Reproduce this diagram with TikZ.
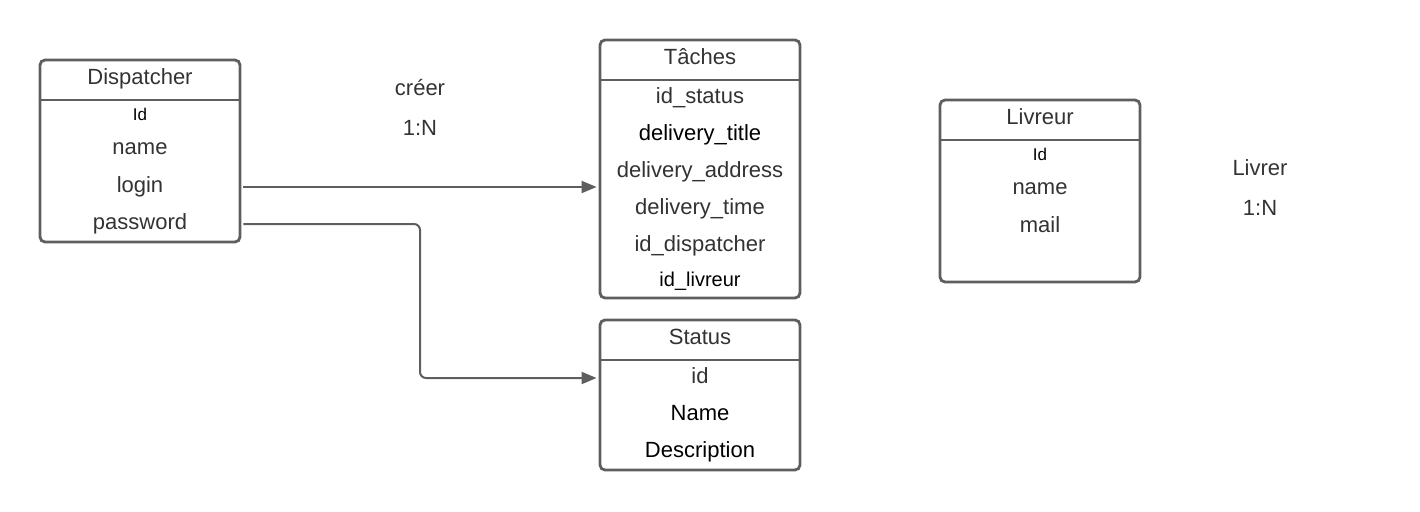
\documentclass[tikz,border=0pt]{standalone}
\usepackage{fontspec}
\setmainfont{Liberation Sans}
\usetikzlibrary{arrows.meta}
\definecolor{bordergray}{HTML}{5E5E5E}
\definecolor{txtgray}{HTML}{333333}
\tikzset{
  entity/.style={draw=bordergray, line width=2.8pt, rounded corners=5pt, fill=white, minimum width=200pt, inner sep=0pt},
  hline/.style={draw=bordergray, line width=2.8pt},
  title/.style={text=txtgray, font=\fontsize{22}{24}\selectfont, inner sep=0pt, anchor=center},
  field/.style={text=txtgray, font=\fontsize{22}{24}\selectfont, inner sep=0pt, anchor=center},
  fieldb/.style={text=black, font=\fontsize{22}{24}\selectfont, inner sep=0pt, anchor=center},
  fieldsmall/.style={text=black, font=\fontsize{17}{20}\selectfont, inner sep=0pt, anchor=center},
  fieldmid/.style={text=black, font=\fontsize{20}{22}\selectfont, inner sep=0pt, anchor=center},
  lbl/.style={text=txtgray, font=\fontsize{22}{24}\selectfont, inner sep=0pt, anchor=center},
  conn/.style={draw=bordergray, line width=2pt, -{Triangle[length=15pt,width=12pt]}, rounded corners=6pt}
}
\begin{document}
\begin{tikzpicture}[x=1pt,y=-1pt]
\useasboundingbox (0,0) rectangle (1420,511);
% Dispatcher
\node[entity, minimum height=182pt] (disp) at (140,151) {};
\draw[hline] (disp.west |- 0,100) -- (disp.east |- 0,100);
\node[title] (dispT) at (140,78.5) {Dispatcher};
\node[fieldsmall] (dispId) at (140,114) {Id};
\node[field] (dispName) at (140,149) {name};
\node[field] (dispLogin) at (140,186.5) {login};
\node[field] (dispPwd) at (140,223.5) {password};
% Taches
\node[entity, minimum height=258pt] (tach) at (700,169) {};
\draw[hline] (tach.west |- 0,80) -- (tach.east |- 0,80);
\node[title] (tachT) at (700,57) {Tâches};
\node[field] (t1) at (700,97.5) {id\_status};
\node[fieldb] (t2) at (700,134.5) {delivery\_title};
\node[field] (t3) at (700,171.5) {delivery\_address};
\node[field] (t4) at (700,208.5) {delivery\_time};
\node[field] (t5) at (700,245.5) {id\_dispatcher};
\node[fieldmid] (t6) at (700,281) {id\_livreur};
% Status
\node[entity, minimum height=150pt] (stat) at (700,395) {};
\draw[hline] (stat.west |- 0,360) -- (stat.east |- 0,360);
\node[title] (statT) at (700,337) {Status};
\node[field] (s1) at (700,376) {id};
\node[fieldb] (s2) at (700,413) {Name};
\node[fieldb] (s3) at (700,451.5) {Description};
% Livreur
\node[entity, minimum height=182pt] (livr) at (1040,191) {};
\draw[hline] (livr.west |- 0,140) -- (livr.east |- 0,140);
\node[title] (livrT) at (1040,117) {Livreur};
\node[fieldsmall] (l1) at (1040,154) {Id};
\node[field] (l2) at (1040,189) {name};
\node[field] (l3) at (1040,225) {mail};
% labels
\node[lbl] (creer) at (420,88) {créer};
\node[lbl] (card1) at (420,128) {1:N};
\node[lbl] (livrer) at (1260,168) {Livrer};
\node[lbl] (card2) at (1260,208) {1:N};
% connectors
\coordinate (a1) at ([xshift=2pt]disp.east |- 0,187);
\coordinate (a2) at ([xshift=-2pt]tach.west |- 0,187);
\draw[conn] (a1) -- (a2);
\coordinate (b1) at ([xshift=2pt]disp.east |- 0,224);
\coordinate (b2) at ([xshift=-2pt]stat.west |- 0,378);
\draw[conn] (b1) -- (420,224) -- (420,378) -- (b2);
\end{tikzpicture}
\end{document}
